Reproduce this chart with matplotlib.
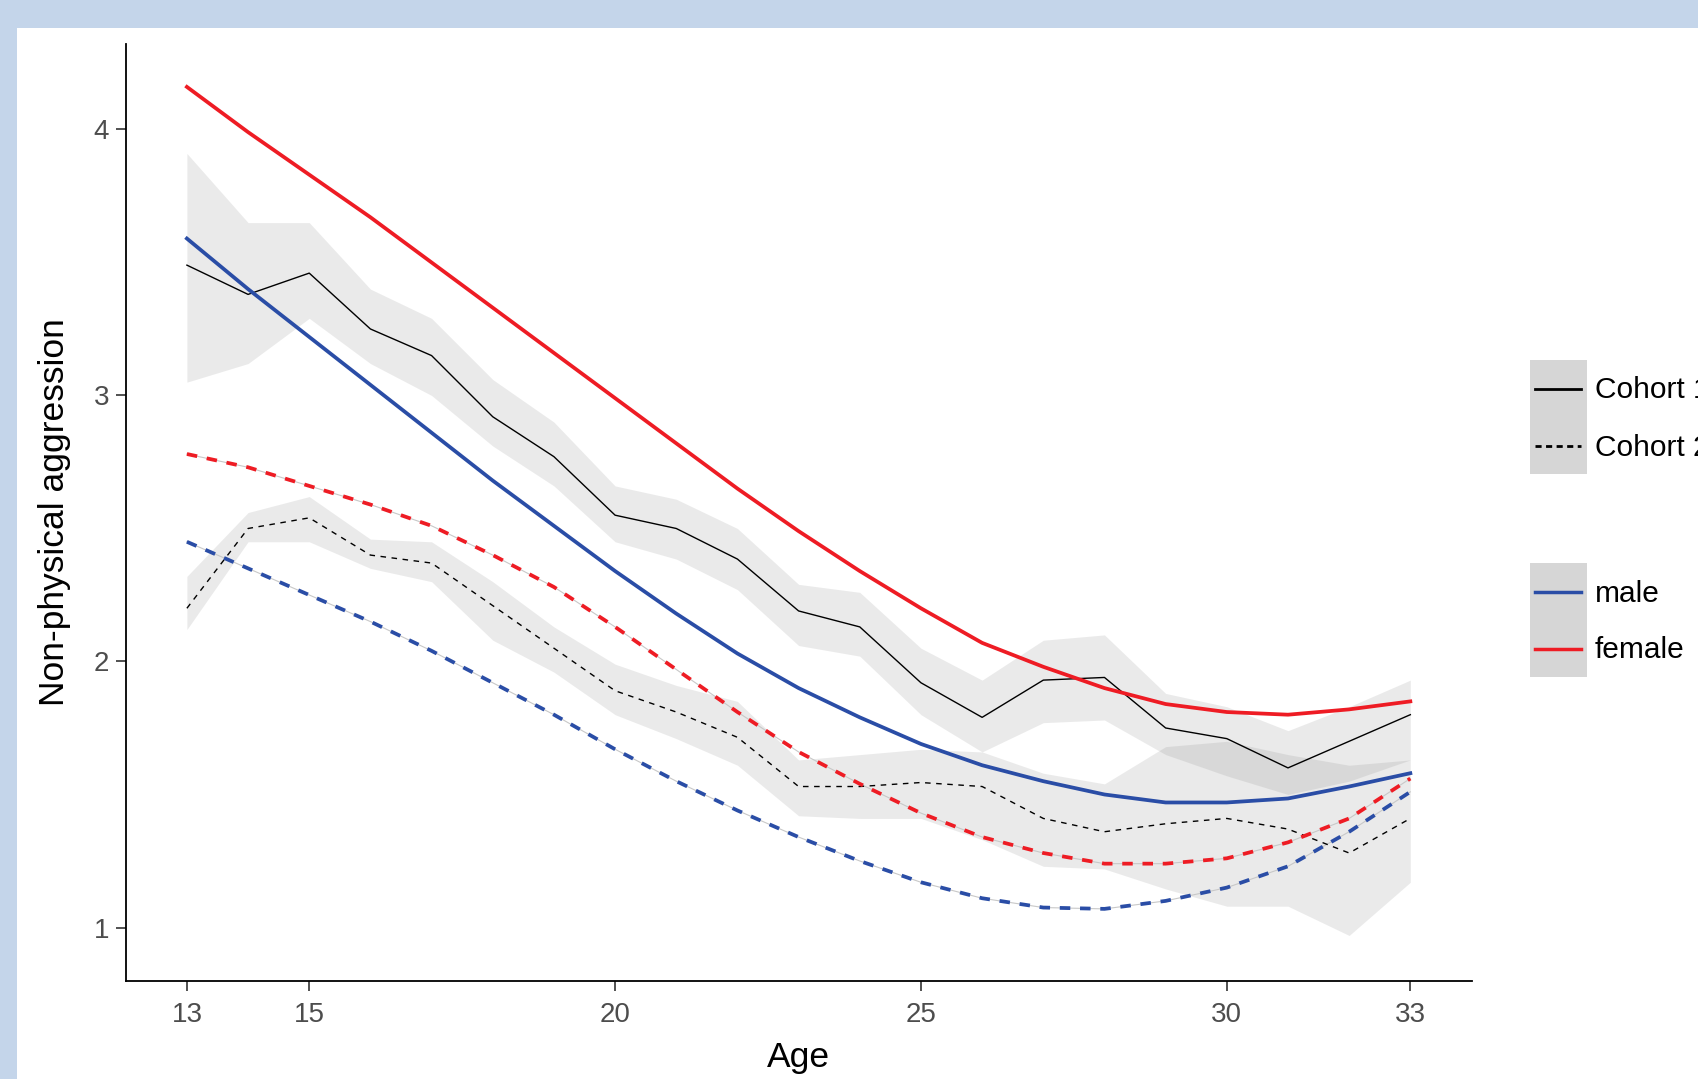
import numpy as np
import matplotlib
matplotlib.use('Agg')
import matplotlib.pyplot as plt
from matplotlib.patches import Rectangle
from matplotlib.lines import Line2D

plt.rcParams['font.family'] = ['Liberation Sans', 'DejaVu Sans']

# ages 13..33
ages = list(range(13, 34))

# fitted growth curves
female_c1_fit = [4.16, 3.99, 3.83, 3.67, 3.50, 3.33, 3.16, 2.99, 2.82, 2.65, 2.49,
                 2.34, 2.20, 2.07, 1.98, 1.90, 1.84, 1.81, 1.80, 1.82, 1.85]
male_c1_fit = [3.59, 3.40, 3.22, 3.04, 2.86, 2.68, 2.51, 2.34, 2.18, 2.03, 1.90,
               1.79, 1.69, 1.61, 1.55, 1.50, 1.47, 1.47, 1.485, 1.53, 1.58]
female_c2_fit = [2.78, 2.73, 2.66, 2.59, 2.51, 2.40, 2.28, 2.13, 1.97, 1.81, 1.66,
                 1.54, 1.43, 1.34, 1.28, 1.24, 1.24, 1.26, 1.32, 1.41, 1.56]
male_c2_fit = [2.45, 2.35, 2.25, 2.15, 2.04, 1.92, 1.80, 1.67, 1.55, 1.44, 1.34,
               1.25, 1.17, 1.11, 1.075, 1.07, 1.10, 1.15, 1.23, 1.36, 1.51]

# observed means with bands
c1_mean = [3.49, 3.38, 3.46, 3.25, 3.15, 2.92, 2.77, 2.55, 2.50, 2.385, 2.19,
           2.13, 1.92, 1.79, 1.93, 1.94, 1.75, 1.71, 1.60, 1.70, 1.80]
c1_hi = [3.91, 3.65, 3.65, 3.40, 3.29, 3.06, 2.90, 2.66, 2.61, 2.50, 2.29,
         2.26, 2.05, 1.93, 2.08, 2.10, 1.88, 1.83, 1.74, 1.83, 1.93]
c1_lo = [3.05, 3.12, 3.29, 3.12, 3.00, 2.81, 2.66, 2.45, 2.385, 2.27, 2.06,
         2.02, 1.80, 1.66, 1.77, 1.78, 1.65, 1.57, 1.50, 1.55, 1.63]

c2_mean = [2.20, 2.50, 2.54, 2.40, 2.37, 2.21, 2.05, 1.89, 1.81, 1.715, 1.53,
           1.53, 1.545, 1.53, 1.41, 1.36, 1.39, 1.41, 1.37, 1.28, 1.41]
c2_hi = [2.32, 2.56, 2.62, 2.46, 2.45, 2.30, 2.13, 1.99, 1.91, 1.85, 1.63,
         1.65, 1.67, 1.66, 1.58, 1.54, 1.68, 1.70, 1.65, 1.61, 1.63]
c2_lo = [2.12, 2.45, 2.45, 2.35, 2.30, 2.08, 1.96, 1.80, 1.71, 1.61, 1.42,
         1.41, 1.41, 1.33, 1.23, 1.22, 1.145, 1.08, 1.08, 0.97, 1.17]

x_ticks = [13, 15, 20, 25, 30, 33]
y_ticks = [1, 2, 3, 4]

RED = '#EE1C24'
BLUE = '#2A4DA6'
BAND = 'grey'

fig = plt.figure(figsize=(16.99, 10.79), dpi=100)
fig.patch.set_facecolor('#C4D5EA')
fig.add_artist(Rectangle((17 / 1699, 0), 1 - 17 / 1699, 1 - 28 / 1079,
                         transform=fig.transFigure, facecolor='white',
                         edgecolor='none', zorder=0))

ax = fig.add_axes([0.074, 0.0911, 0.7921, 0.8678])
ax.set_facecolor('none')

ax.fill_between(ages, c1_lo, c1_hi, color=BAND, alpha=0.16, linewidth=0, zorder=1)
ax.fill_between(ages, c2_lo, c2_hi, color=BAND, alpha=0.16, linewidth=0, zorder=1)

ax.plot(ages, c1_mean, color='black', lw=1.0, zorder=3)
ax.plot(ages, c2_mean, color='black', lw=1.0, linestyle=(0, (4, 4)), zorder=3)

for fit in (female_c2_fit, male_c2_fit):
    ax.plot(ages, fit, color='#C8C8C8', lw=0.8, zorder=2)

ax.plot(ages, female_c1_fit, color=RED, lw=2.7, zorder=4)
ax.plot(ages, male_c1_fit, color=BLUE, lw=2.7, zorder=4)
ax.plot(ages, female_c2_fit, color=RED, lw=2.7, linestyle=(0, (2.8, 2.6)), zorder=4)
ax.plot(ages, male_c2_fit, color=BLUE, lw=2.7, linestyle=(0, (2.8, 2.6)), zorder=4)

ax.set_xlim(12, 34)
ax.set_ylim(0.80, 4.32)
ax.set_xticks(x_ticks)
ax.set_yticks(y_ticks)
ax.spines['top'].set_visible(False)
ax.spines['right'].set_visible(False)
for s in ('left', 'bottom'):
    ax.spines[s].set_linewidth(1.3)
    ax.spines[s].set_color('black')
ax.tick_params(axis='both', length=7, width=1.2, color='#333333',
               labelsize=20, labelcolor='#4D4D4D', pad=5)
ax.tick_params(axis='x', pad=8)

ax.set_xlabel('Age', fontsize=25.5, labelpad=10)
ax.set_ylabel('Non-physical aggression', fontsize=25.5, labelpad=16)

# legends (drawn in figure pixels)
W, H = 1699, 1079


def px(x, y):
    return x / W, 1 - y / H


def key_box(top, entries):
    x0, y0 = px(1530, top + 114)
    fig.add_artist(Rectangle((x0, y0), 57 / W, 114 / H, transform=fig.transFigure,
                             facecolor='#D6D6D6', edgecolor='none'))
    for i, (label, color, ls, lw) in enumerate(entries):
        yc = top + 28.5 + 57 * i
        xa, ya = px(1535, yc)
        xb, _ = px(1581, yc)
        fig.add_artist(Line2D([xa, xb], [ya, ya], transform=fig.transFigure,
                              color=color, linestyle=ls, lw=lw))
        tx, ty = px(1595, yc + 2)
        fig.text(tx, ty, label, fontsize=21.5, va='center', ha='left', color='black')


key_box(360, [('Cohort 1', 'black', '-', 2.0), ('Cohort 2', 'black', (0, (2.2, 1.6)), 2.0)])
key_box(563, [('male', BLUE, '-', 2.5), ('female', RED, '-', 2.5)])

fig.savefig('out.png', dpi=100, facecolor=fig.get_facecolor())
